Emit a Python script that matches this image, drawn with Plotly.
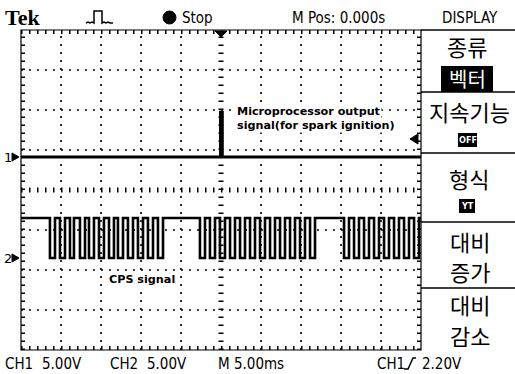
import plotly.graph_objects as go

# ---------------- data ----------------
# CH2 (CPS signal): times (ms, relative to trigger) of falling / rising edges
ch2_fall_ms = [-21.38, -20.13, -18.88, -17.63, -16.50, -15.25, -14.00, -12.88, -11.63, -10.38, -9.13, -7.88,
               -2.63, -1.38, -0.13, 1.13, 2.38, 3.63, 4.88, 6.13, 7.38, 8.63, 9.88, 11.13,
               15.38, 16.63, 17.88, 19.13, 20.38, 21.63, 22.88, 24.13]
ch2_rise_ms = [-20.75, -19.50, -18.38, -17.00, -15.88, -14.63, -13.38, -12.25, -11.00, -9.75, -8.50, -7.25,
               -2.00, -0.75, 0.50, 1.75, 3.00, 4.25, 5.50, 6.75, 8.00, 9.25, 10.50, 11.75,
               16.00, 17.25, 18.50, 19.75, 21.00, 22.25, 23.50, 24.75]
ch2_high_v = 5.0
ch2_low_v = 0.0
# CH1 (microprocessor output): flat with a short spike at the trigger point
ch1_time_ms = [-25.0, -0.06, -0.06, 0.16, 0.16, 25.0]
ch1_volt = [0.0, 0.0, 5.6, 5.6, 0.0, 0.0]

volts_per_div = 5.0
time_range_ms = [-25.0, 25.0]
ch1_ground_div = 0.825
ch2_ground_div = -1.7

menu_titles = ["종류", "지속기능", "형식", "대비", "증가", "대비", "감소"]

# ---------------- build traces ----------------
xs = [time_range_ms[0]]
ys = [ch2_high_v]
for f, r in zip(ch2_fall_ms, ch2_rise_ms):
    xs += [f, f, r, r]
    ys += [ch2_high_v, ch2_low_v, ch2_low_v, ch2_high_v]
xs.append(time_range_ms[1])
ys.append(ch2_high_v)
ch2_y = [ch2_ground_div + v / volts_per_div for v in ys]
ch1_y = [ch1_ground_div + v / volts_per_div for v in ch1_volt]

fig = go.Figure()
fig.add_trace(go.Scatter(x=ch1_time_ms, y=ch1_y, mode="lines",
                         line=dict(color="black", width=3), hoverinfo="skip"))
fig.add_trace(go.Scatter(x=xs, y=ch2_y, mode="lines",
                         line=dict(color="black", width=2.6), hoverinfo="skip"))

W, H = 515, 374
L, R, T, B = 21, 421, 30, 350


def PX(x):
    return (x - L) / (R - L)


def PY(y):
    return (B - y) / (B - T)


shapes = []
BLK = "black"
# dotted graticule
for k in [-20, -15, -10, -5, 5, 10, 15, 20]:
    shapes.append(dict(type="line", xref="x", yref="y", x0=k, x1=k, y0=-4, y1=4,
                       line=dict(color=BLK, width=1.6, dash="2px,6px"), layer="below"))
for k in [-3, -2, -1, 1, 2, 3]:
    shapes.append(dict(type="line", xref="x", yref="y", x0=-25, x1=25, y0=k, y1=k,
                       line=dict(color=BLK, width=1.6, dash="2px,6px"), layer="below"))
# centre cross with ticks
shapes.append(dict(type="line", xref="x", yref="y", x0=-25, x1=25, y0=0, y1=0,
                   line=dict(color=BLK, width=5, dash="1.5px,6.5px"), layer="below"))
shapes.append(dict(type="line", xref="x", yref="y", x0=0, x1=0, y0=-4, y1=4,
                   line=dict(color=BLK, width=5, dash="1.5px,6.5px"), layer="below"))
# border
shapes.append(dict(type="rect", xref="paper", yref="paper", x0=0, x1=1, y0=0, y1=1,
                   line=dict(color=BLK, width=1.2)))
# border ticks
shapes.append(dict(type="line", xref="paper", yref="paper", x0=0, x1=1, y0=PY(T + 2), y1=PY(T + 2),
                   line=dict(color=BLK, width=4, dash="1.5px,6.5px")))
shapes.append(dict(type="line", xref="paper", yref="paper", x0=0, x1=1, y0=PY(B - 2), y1=PY(B - 2),
                   line=dict(color=BLK, width=4, dash="1.5px,6.5px")))
shapes.append(dict(type="line", xref="paper", yref="paper", x0=PX(L + 2), x1=PX(L + 2), y0=0, y1=1,
                   line=dict(color=BLK, width=4, dash="1.5px,6.5px")))
shapes.append(dict(type="line", xref="paper", yref="paper", x0=PX(R - 2), x1=PX(R - 2), y0=0, y1=1,
                   line=dict(color=BLK, width=4, dash="1.5px,6.5px")))

# menu panel lines
for yy in [30, 92, 153, 222, 288]:
    shapes.append(dict(type="line", xref="paper", yref="paper", x0=PX(R), x1=PX(W), y0=PY(yy), y1=PY(yy),
                       line=dict(color=BLK, width=1.6)))


def path(pts, close=True):
    s = "M " + " L ".join(f"{PX(x):.5f},{PY(y):.5f}" for x, y in pts)
    return s + (" Z" if close else "")


def filled(pts):
    return dict(type="path", xref="paper", yref="paper", path=path(pts),
                fillcolor=BLK, line=dict(color=BLK, width=1))


# inverse boxes in menu
shapes.append(dict(type="rect", xref="paper", yref="paper", x0=PX(441), x1=PX(493), y0=PY(92), y1=PY(66),
                   fillcolor=BLK, line=dict(width=0)))
shapes.append(dict(type="rect", xref="paper", yref="paper", x0=PX(458), x1=PX(477), y0=PY(147), y1=PY(133),
                   fillcolor=BLK, line=dict(width=0)))
shapes.append(dict(type="rect", xref="paper", yref="paper", x0=PX(459), x1=PX(475), y0=PY(213), y1=PY(199),
                   fillcolor=BLK, line=dict(width=0)))
# trigger markers
shapes.append(filled([(215, 31), (227, 31), (221, 37)]))
shapes.append(filled([(410, 139), (418, 134), (418, 144)]))
# channel ground arrows
shapes.append(filled([(12, 153), (19, 157), (12, 161)]))
shapes.append(filled([(12, 254), (19, 258), (12, 262)]))
# Stop dot
shapes.append(dict(type="circle", xref="paper", yref="paper", x0=PX(163), x1=PX(176), y0=PY(24), y1=PY(11),
                   fillcolor=BLK, line=dict(color=BLK, width=1)))
# pulse icon
shapes.append(dict(type="path", xref="paper", yref="paper",
                   path=path([(86, 23), (88, 22), (90, 23), (92, 22), (94, 23), (94, 11), (102, 11),
                              (102, 23), (104, 22), (106, 23), (108, 22), (110, 23), (113, 23)], close=False),
                   line=dict(color=BLK, width=1.5)))
# rising edge icon
shapes.append(dict(type="path", xref="paper", yref="paper",
                   path=path([(404, 369), (408, 369), (413, 358), (416, 358)], close=False),
                   line=dict(color=BLK, width=1.5)))

NARROW = "DejaVu Sans Condensed, Liberation Sans Narrow, DejaVu Sans, sans-serif"
KR = "Noto Sans CJK KR"
ann = []


def txt(x, y, s, size, family=NARROW, xanchor="left", color=BLK, bg=None):
    a = dict(x=PX(x), y=PY(y), xref="paper", yref="paper", text=s, showarrow=False,
             xanchor=xanchor, yanchor="middle", font=dict(family=family, size=size, color=color),
             borderpad=0)
    if bg:
        a["bgcolor"] = bg
    ann.append(a)


txt(4, 17, "<b>Tek</b>", 22, family="Liberation Serif")
txt(181, 18, "Stop", 15)
txt(291, 18, "M Pos: 0.000s", 15)
txt(470, 18, "DISPLAY", 15, xanchor="center")

txt(4, 364, "CH1", 15)
txt(41, 364, "5.00V", 15)
txt(109, 364, "CH2", 15)
txt(146, 364, "5.00V", 15)
txt(217, 364, "M 5.00ms", 15)
txt(376, 364, "CH1", 15)
txt(421, 364, "2.20V", 15)

txt(3, 157, "1", 13, family="DejaVu Sans")
txt(3, 258, "2", 13, family="DejaVu Sans")

txt(236, 111.5, "<b>Microprocessor output</b>", 11.2, family="DejaVu Sans", bg="white")
txt(236, 125, "<b>signal(for spark ignition)</b>", 11.2, family="DejaVu Sans", bg="white")
txt(108, 279, "<b>CPS signal</b>", 11.2, family="DejaVu Sans", bg="white")

txt(467, 46, menu_titles[0], 22, family=KR, xanchor="center")
txt(467, 79, "벡터", 20, family=KR, xanchor="center", color="white")
txt(469, 111, menu_titles[1], 22, family=KR, xanchor="center")
txt(467.5, 140, "<b>OFF</b>", 9, family="DejaVu Sans Condensed, DejaVu Sans", xanchor="center", color="white")
txt(469, 178, menu_titles[2], 22, family=KR, xanchor="center")
txt(467, 206, "<b>YT</b>", 9, family="DejaVu Sans Condensed, DejaVu Sans", xanchor="center", color="white")
txt(470, 241, menu_titles[3], 22, family=KR, xanchor="center")
txt(470, 271, menu_titles[4], 22, family=KR, xanchor="center")
txt(470, 304, menu_titles[5], 22, family=KR, xanchor="center")
txt(470, 335, menu_titles[6], 22, family=KR, xanchor="center")

fig.update_layout(
    width=W, height=H, autosize=False,
    margin=dict(l=L, r=W - R, t=T, b=H - B, pad=0),
    paper_bgcolor="white", plot_bgcolor="white",
    showlegend=False,
    xaxis=dict(range=time_range_ms, visible=False, fixedrange=True),
    yaxis=dict(range=[-4, 4], visible=False, fixedrange=True),
    shapes=shapes, annotations=ann,
)
fig.write_html("out.html", config={"displayModeBar": False, "staticPlot": True},
               post_script="document.body.style.margin='0';")
